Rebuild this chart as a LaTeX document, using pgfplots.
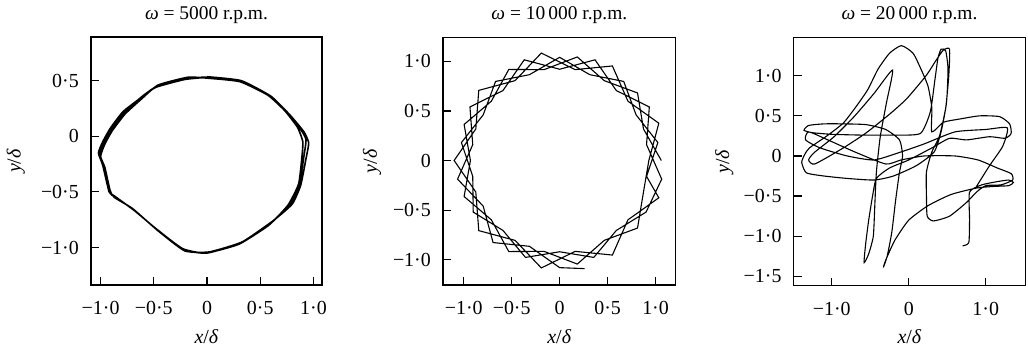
\documentclass[border=0pt]{standalone}
\usepackage{fontspec}
\setmainfont{Liberation Serif}
\usepackage{pgfplots}
\pgfplotsset{compat=1.18}
\newcommand{\fs}{\fontsize{20}{24}\selectfont}
\pgfplotsset{
  orbit/.style={
    scale only axis,
    anchor=south west,
    axis line style={line width=1.5bp},
    tick style={line width=1.2bp, black},
    tick align=inside,
    xtick pos=bottom, ytick pos=left,
    major tick length=8bp,
    tick label style={font=\fs, inner sep=0pt},
    xticklabel style={anchor=base, yshift=-30bp},
    yticklabel style={anchor=east, xshift=-12bp},
    label style={font=\fs, inner sep=0pt},
    xlabel={\textit{x}/\textit{δ}},
    ylabel={\textit{y}/\textit{δ}},
    xlabel style={at={(axis description cs:0.5,0)}, anchor=base, yshift=-58bp},
    title style={font=\fontsize{19.5}{23}\selectfont, at={(axis description cs:0.5,1)}, anchor=base, yshift=12bp, inner sep=0pt},
  }
}
\begin{document}
\begin{tikzpicture}
\useasboundingbox (0,0) rectangle (1028bp,352bp);
% ---------- Panel 1 ----------
\begin{axis}[orbit,
  at={(91bp,67bp)}, width=231bp, height=248bp,
  xmin=-1.09, xmax=1.08, ymin=-1.337, ymax=0.892,
  xtick={-1,-0.5,0,0.5,1}, xticklabels={−1·0,−0·5,0,0·5,1·0},
  ytick={-1,-0.5,0,0.5}, yticklabels={−1·0,−0·5,0,0·5},
  ylabel style={at={(axis description cs:-0.325,0.5)}, anchor=center},
  title={\textit{ω} = 5000 r.p.m.}]
\addplot[black, line width=1.6bp, smooth, tension=0.3] coordinates {
(0.00,0.535) (0.32,0.50) (0.60,0.36) (0.755,0.21) (0.88,0.06) (0.93,-0.03) (0.91,-0.18) (0.865,-0.45) (0.79,-0.60) (0.60,-0.78) (0.32,-0.96) (0.00,-1.05) (-0.22,-1.02) (-0.47,-0.84) (-0.69,-0.66) (-0.875,-0.54) (-0.906,-0.51) (-0.97,-0.27) (-1.01,-0.166) (-0.97,-0.06) (-0.90,0.06) (-0.78,0.21) (-0.62,0.35) (-0.47,0.45) (-0.20,0.52)
(0.02,0.53) (0.33,0.49) (0.61,0.35) (0.78,0.19) (0.91,0.04) (0.955,-0.06) (0.93,-0.20) (0.88,-0.44) (0.80,-0.61) (0.62,-0.76) (0.33,-0.95) (0.02,-1.04) (-0.21,-1.03) (-0.46,-0.85) (-0.70,-0.65) (-0.87,-0.55) (-0.91,-0.49) (-0.96,-0.28) (-1.00,-0.18) (-0.96,-0.07) (-0.89,0.05) (-0.77,0.20) (-0.61,0.34) (-0.46,0.46) (-0.18,0.53)
(0.03,0.52) (0.31,0.49) (0.57,0.37) (0.73,0.23) (0.85,0.08) (0.90,-0.05) (0.89,-0.20) (0.86,-0.43) (0.76,-0.62) (0.58,-0.80) (0.30,-0.97) (-0.01,-1.05) (-0.23,-1.01) (-0.48,-0.83) (-0.68,-0.67) (-0.88,-0.53) (-0.92,-0.50) (-0.98,-0.26) (-1.02,-0.15) (-0.98,-0.05) (-0.91,0.07) (-0.79,0.22) (-0.63,0.34) (-0.48,0.44) (-0.21,0.51) (0.00,0.53)
};
\end{axis}
% ---------- Panel 2 ----------
\begin{axis}[orbit,
  at={(443bp,67bp)}, width=232.7bp, height=247.3bp,
  xmin=-1.216, xmax=1.21, ymin=-1.255, ymax=1.238,
  xtick={-1,-0.5,0,0.5,1}, xticklabels={−1·0,−0·5,0,0·5,1·0},
  ytick={-1,-0.5,0,0.5,1}, yticklabels={−1·0,−0·5,0,0·5,1·0},
  ylabel style={at={(axis description cs:-0.305,0.5)}, anchor=center},
  title={\textit{ω} = 10\,000 r.p.m.}]
\addplot[black, line width=1.1bp] coordinates {
(1.06,0) (0.874,0.318) (0.812,0.681) (0.465,0.805) (0.184,1.044) (-0.162,0.916) (-0.53,0.918) (-0.712,0.598) (-0.996,0.363) (-0.93,0) (-0.996,-0.363) (-0.712,-0.598) (-0.53,-0.918) (-0.162,-0.916) (0.184,-1.044) (0.465,-0.805) (0.812,-0.681) (0.874,-0.318)
(0.93,0) (1.034,0.376) (0.712,0.598) (0.55,0.953) (0.162,0.916) (-0.191,1.083) (-0.465,0.805) (-0.843,0.707) (-0.874,0.318) (-1.1,0) (-0.874,-0.318) (-0.843,-0.707) (-0.465,-0.805) (-0.191,-1.083) (0.162,-0.916) (0.55,-0.953) (0.712,-0.598) (1.034,-0.376)
(0.906,-0.16) (1.024,0.181) (0.797,0.46) (0.668,0.797) (0.315,0.865) (0,1.04) (-0.315,0.865) (-0.668,0.797) (-0.797,0.46) (-1.024,0.181) (-0.906,-0.16) (-0.901,-0.52) (-0.591,-0.705) (-0.356,-0.977) (0,-0.92) (0.356,-0.977) (0.591,-0.705) (0.901,-0.52)
(1.064,-0.188) (0.906,0.16) (0.935,0.54) (0.591,0.705) (0.369,1.015) (0,0.92) (-0.369,1.015) (-0.591,0.705) (-0.935,0.54) (-0.906,0.16) (-1.064,-0.188) (-0.797,-0.46) (-0.694,-0.827) (-0.315,-0.865) (0,-1.08) (0.26,-1.09)
};
\end{axis}
% ---------- Panel 3 ----------
\begin{axis}[orbit,
  at={(793.7bp,66.3bp)}, width=231.6bp, height=248bp,
  xmin=-1.494, xmax=1.514, ymin=-1.617, ymax=1.474,
  xtick={-1,0,1}, xticklabels={−1·0,0,1·0},
  ytick={-1.5,-1,-0.5,0,0.5,1}, yticklabels={−1·5,−1·0,−0·5,0,0·5,1·0},
  ylabel style={at={(axis description cs:-0.30,0.5)}, anchor=center},
  title={\textit{ω} = 20\,000 r.p.m.}]
\addplot[black, line width=1.1bp, smooth, tension=0.35] coordinates {
(0.70,-1.12) (0.78,-1.08) (0.79,-0.80) (0.79,-0.45)
(0.95,-0.36) (1.15,-0.32) (1.30,-0.30) (1.36,-0.33) (1.30,-0.37) (1.10,-0.38) (0.88,-0.40)
(0.55,-0.48) (0.25,-0.62) (0.00,-0.80) (-0.18,-1.05) (-0.30,-1.30) (-0.33,-1.39)
(-0.28,-1.25) (-0.22,-0.95) (-0.17,-0.55) (-0.12,-0.20) (-0.08,0.00)
(-0.12,0.20) (-0.30,0.33) (-0.55,0.39) (-0.85,0.40) (-1.10,0.40) (-1.30,0.38) (-1.36,0.32) (-1.25,0.29) (-1.00,0.27)
(-0.60,0.26) (-0.20,0.26) (0.15,0.28)
(0.28,0.55) (0.34,0.95) (0.38,1.22) (0.42,1.33) (0.48,1.31) (0.51,1.08) (0.49,0.66) (0.42,0.30) (0.33,0.05)
(0.10,-0.12) (-0.20,-0.25) (-0.45,-0.30) (-0.80,-0.28) (-1.10,-0.25) (-1.33,-0.21) (-1.39,-0.08) (-1.35,0.02)
(-1.29,0.10) (-1.07,0.245) (-0.85,0.41) (-0.68,0.62) (-0.53,0.83) (-0.40,1.08) (-0.25,1.28) (-0.095,1.375) (0.056,1.28) (0.16,1.08) (0.25,0.87) (0.30,0.60) (0.30,0.30)
(0.45,0.42) (0.66,0.46) (0.92,0.50) (1.18,0.49) (1.31,0.40) (1.33,0.28) (1.25,0.22) (1.05,0.24) (0.75,0.20) (0.53,0.22)
(0.30,0.10) (0.00,-0.05) (-0.25,-0.15) (-0.42,-0.28) (-0.47,-0.50) (-0.52,-0.80) (-0.56,-1.10) (-0.58,-1.33) (-0.52,-1.22) (-0.46,-1.00) (-0.44,-0.60) (-0.42,-0.20) (-0.37,0.24) (-0.29,0.66) (-0.21,1.07)
(-0.45,0.78) (-0.71,0.49) (-0.97,0.24) (-1.23,0.04) (-1.30,-0.05) (-1.22,-0.10)
(-0.85,0.10) (-0.55,0.29) (-0.25,0.52) (-0.03,0.71) (0.225,1.00) (0.36,1.20) (0.45,1.32) (0.53,1.33)
(0.52,1.00) (0.48,0.60) (0.40,0.25) (0.30,0.05)
(0.23,-0.20) (0.23,-0.50) (0.24,-0.75) (0.32,-0.81) (0.53,-0.75) (0.75,-0.58) (0.88,-0.45) (1.00,-0.37) (1.20,-0.36) (1.35,-0.30) (1.33,-0.22) (1.15,-0.15) (0.90,-0.05) (0.60,0.00) (0.20,0.00) (-0.10,-0.05)
(-0.30,-0.10) (-0.70,0.05) (-1.05,0.20) (-1.30,0.30) (-1.34,0.20) (-1.15,0.10) (-0.80,0.00) (-0.45,-0.05) (-0.10,0.05) (0.20,0.15) (0.60,0.30) (1.00,0.33) (1.28,0.35) (1.22,0.12) (1.05,-0.12) (0.88,-0.38)
};
\end{axis}
\end{tikzpicture}
\end{document}
